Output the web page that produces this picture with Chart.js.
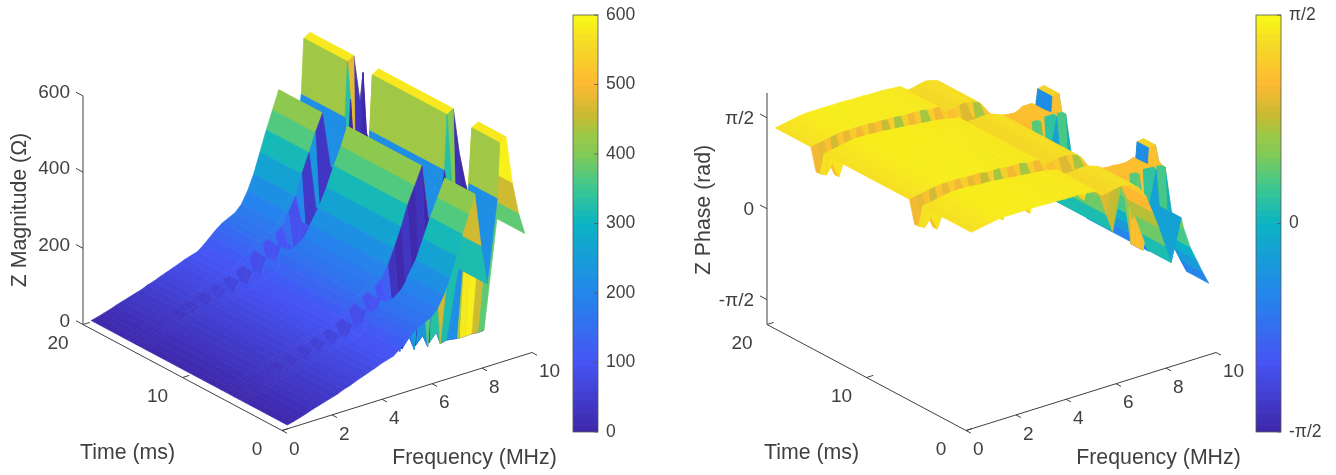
<!DOCTYPE html>
<html>
<head>
<meta charset="utf-8">
<script src="https://cdn.jsdelivr.net/npm/chart.js@4"></script>
<style>
html,body{margin:0;background:#fff;overflow:hidden}
canvas{position:absolute;top:0;filter:blur(0.45px)}
#magPlot{left:0}
#magBar{left:560px}
#phasePlot{left:684px}
#phaseBar{left:1243px}
</style>
</head>
<body>
<canvas id="magPlot" width="570" height="475"></canvas>
<canvas id="magBar" width="110" height="475"></canvas>
<canvas id="phasePlot" width="570" height="475"></canvas>
<canvas id="phaseBar" width="93" height="475"></canvas>
<script>
const HALF_PI = Math.PI / 2;

const freqs = [0.25,0.5,0.75,1,1.25,1.5,1.75,2,2.25,2.5,2.75,3,3.25,3.5,3.75,4,4.25,4.5,4.75,5,5.25,5.5,5.75,6,6.25,6.5,6.75,7,7.25,7.5,7.75,8,8.25,8.65,8.75,9,9.25,9.5,9.75];

// time of each grid row, per frequency column (the gaps between the lobes drift with frequency)
const tFront = [0.1,0.1,0.1,0.1,0.1,0.1,0.1,0.1,0.1,0.1,0.1,0.1,0.1,0.1,0.1,0.1,0.1,0.1,0.1,0.1,0.1,0.1,0.1,0.1,0.1,0.1,0.1,0.1,0.1,0.1,0.1,0.1,0.1,0.1,0.1,0.1,0.1,0.1,0.1];
const t1y = [4.4,4.4,4.4,4.4,4.4,4.4,4.4,4.4,4.3,4.2,4.2,4.1,4.1,4,3.9,3.9,3.8,3.7,3.7,3.6,3.5,3.4,3.3,3.2,3.1,3,2.9,2.8,2.7,2.6,2.5,2.4,2.4,2.3,2.3,2.3,2.3,2.3,2.3];
const t1z = [4.7,4.7,4.7,4.7,4.7,4.7,4.7,4.7,4.6,4.5,4.5,4.4,4.4,4.3,4.2,4.2,4.1,4,4,3.9,3.8,3.7,3.6,3.5,3.4,3.3,3.2,3.1,3,2.9,2.8,2.7,2.7,2.6,2.6,2.6,2.6,2.6,2.6];
const t1a = [5,5,5,5,5,5,5,5,4.9,4.8,4.8,4.7,4.7,4.6,4.5,4.5,4.4,4.3,4.3,4.2,4.1,4,3.9,3.8,3.7,3.6,3.5,3.4,3.3,3.2,3.1,3,3,2.9,2.9,2.9,2.9,2.9,2.9];
const t1b = [5.4,5.4,5.4,5.4,5.4,5.4,5.4,5.4,5.3,5.3,5.2,5.2,5.1,5.1,5,5,4.9,4.9,4.8,4.8,4.7,4.7,4.6,4.6,4.5,4.5,4.4,4.3,4.3,4.2,4.2,4.2,4.2,4.2,4.2,4.2,4.2,4.2,4.2];
const t1c = [5.8,5.8,5.8,5.8,5.8,5.8,5.8,5.8,5.7,5.7,5.6,5.6,5.5,5.5,5.5,5.4,5.4,5.3,5.3,5.2,5.2,5.1,5.1,5,5,4.9,4.9,4.8,4.8,4.7,4.7,4.6,4.6,4.9,4.9,4.9,4.9,4.9,4.9];
const t1d = [6.3,6.3,6.3,6.3,6.3,6.3,6.3,6.3,6.3,6.2,6.2,6.2,6.1,6.1,6.1,6,6,6,5.9,5.9,5.9,5.8,5.8,5.8,5.7,5.7,5.7,5.6,5.6,5.5,5.4,5.4,5.4,5.4,5.4,5.4,5.4,5.4,5.4];
const t1e = [6.7,6.7,6.7,6.7,6.7,6.7,6.7,6.7,6.7,6.6,6.6,6.6,6.5,6.5,6.5,6.4,6.4,6.4,6.3,6.3,6.3,6.2,6.2,6.2,6.1,6.1,6.1,6,6,5.9,6,6,6,6.1,6.1,6.1,6.1,6.1,6.1];
const t2y = [14.3,14.3,14.3,14.3,14.3,14.3,14.3,14.3,14.2,14.2,14.1,14,14,13.9,13.8,13.8,13.7,13.6,13.5,13.4,13.3,13.2,13.1,13,12.9,12.8,12.7,12.5,12.4,12.3,12.3,12.3,12.3,12.3,12.3,12.3,12.3,12.3,12.3];
const t2z = [14.6,14.6,14.6,14.6,14.6,14.6,14.6,14.6,14.5,14.5,14.4,14.3,14.3,14.2,14.1,14.1,14,13.9,13.8,13.7,13.6,13.5,13.4,13.3,13.2,13.1,13,12.8,12.7,12.6,12.6,12.6,12.6,12.6,12.6,12.6,12.6,12.6,12.6];
const t2a = [14.9,14.9,14.9,14.9,14.9,14.9,14.9,14.9,14.8,14.8,14.7,14.6,14.6,14.5,14.4,14.4,14.3,14.2,14.1,14,13.9,13.8,13.7,13.6,13.5,13.4,13.3,13.1,13,12.9,12.9,12.9,12.9,12.9,12.9,12.9,12.9,12.9,12.9];
const t2b = [15.3,15.3,15.3,15.3,15.3,15.3,15.3,15.3,15.2,15.2,15.2,15.1,15.1,15.1,15,15,15,14.9,14.9,14.8,14.8,14.7,14.6,14.5,14.4,14.3,14.2,14.1,14,13.9,13.9,13.9,13.9,13.9,13.9,13.9,13.9,13.9,13.9];
const t2c = [15.7,15.7,15.7,15.7,15.7,15.7,15.7,15.7,15.6,15.6,15.6,15.6,15.5,15.5,15.5,15.4,15.4,15.4,15.3,15.3,15.3,15.2,15.2,15.1,15.1,15,15,14.9,14.8,14.7,14.6,14.8,15.1,15.1,15.1,15.1,15.1,15.1,15.1];
const t2d = [16.2,16.2,16.2,16.2,16.2,16.2,16.2,16.2,16.2,16.2,16.1,16.1,16.1,16.1,16,16,16,16,15.9,15.9,15.9,15.8,15.8,15.8,15.7,15.7,15.6,15.6,15.5,15.5,15.4,15.4,15.4,15.4,15.4,15.4,15.4,15.4,15.4];
const t2e = [16.6,16.6,16.6,16.6,16.6,16.6,16.6,16.6,16.6,16.6,16.5,16.5,16.5,16.5,16.4,16.4,16.4,16.4,16.3,16.3,16.3,16.2,16.2,16.2,16.1,16.1,16,16,15.9,15.9,16,16,16,16.3,16.3,16.3,16.3,16.3,16.3];
const tBack = [19.8,19.8,19.8,19.8,19.8,19.8,19.8,19.8,19.8,19.8,19.8,19.8,19.8,19.8,19.8,19.8,19.8,19.8,19.8,19.8,19.8,19.8,19.8,19.8,19.8,19.8,19.8,19.8,19.8,19.8,19.8,19.8,19.8,19.8,19.8,19.8,19.8,19.8,19.8];
const rowTimes = [tFront,t1y,t1z,t1a,t1b,t1c,t1d,t1e,t2y,t2z,t2a,t2b,t2c,t2d,t2e,tBack];

// magnitude (ohm)
const magLobe = [8,12,17,22,28,33,38,43,48,55,60,67,73,79,85,92,97,102,115,130,145,157,165,173,190,220,260,312,365,412,460,320,215,430,575,585,460,375,316];
const magGap1b = [8,12,16,20,26,31,36,32,47,44,58,52,71,62,83,68,95,72,112,85,140,95,160,100,150,12,200,10,230,8,330,6,10,6,5,5,6,4,5];
const magGap1c = [8,12,16,20,26,31,36,32,47,44,58,52,71,62,83,68,95,72,112,85,140,95,160,100,120,30,8,35,8,30,6,30,6,330,400,20,4,15,3];
const magGap2b = [8,12,16,20,26,31,36,32,47,44,58,52,71,62,83,68,95,72,112,85,140,95,160,100,150,90,200,40,230,35,330,40,10,8,6,5,5,4,3];
const magGap2c = [8,12,16,20,26,31,36,32,47,44,58,52,71,62,83,68,95,72,112,85,140,95,160,100,150,90,200,40,230,35,330,40,200,330,480,30,540,12,12];

// phase (rad)
const phaseLobe = [1.38,1.4,1.42,1.44,1.46,1.47,1.47,1.47,1.47,1.47,1.47,1.47,1.46,1.46,1.46,1.45,1.45,1.45,1.44,1.43,1.42,1.32,1.33,1.36,1.38,1.36,1.32,1.22,1.05,0.75,0.45,0.1,-0.22,0.5,0.3,-0.05,-0.3,-0.55,-0.78];
const phaseAlt = [1.38,1.4,1.42,1.44,1.46,1.47,1.47,1.47,1.47,1.47,1.47,1.47,1.46,1.46,1.46,1.45,1.45,1.45,1.44,1.43,1.42,1.32,1.33,1.36,1.38,1.36,1.32,1.1,1.05,1.08,0.35,1.1,0.2,1.1,0.3,1.1,0.3,-0.2,-0.6];
const phaseHump = [1.38,1.4,1.42,1.44,1.46,1.47,1.47,1.47,1.47,1.47,1.47,1.47,1.46,1.46,1.46,1.45,1.45,1.45,1.44,1.43,1.42,1.32,1.33,1.36,1.38,1.36,1.32,1.12,1.1,1.1,1.1,1.1,1.12,1.12,1.12,1.1,0.3,-0.2,-0.6];
const phaseGap = [1,0.95,1.1,0.85,1.15,0.95,1.2,1,1.25,0.95,1.1,0.8,1.25,0.7,1.25,1,1.2,0.7,1.25,1,1.25,1.1,1.2,0.9,1.2,0.7,1.15,1.1,1.1,1.1,1.1,1.1,1.1,1.1,-0.45,1.28,1.3,0.2,-0.4];
const phaseCap = [1.38,1.4,1.42,1.44,1.46,1.47,1.47,1.47,1.47,1.47,1.47,1.47,1.46,1.46,1.46,1.45,1.45,1.45,1.44,1.43,1.42,1.32,1.33,1.36,1.38,1.36,1.32,1.1,1.05,1,0.9,0.8,0.7,0.6,-0.45,1.28,1.3,0.2,-0.4];

const timeTicks = [0,10,20];
const freqTicks = [0,2,4,6,8,10];
const magTicks = [0,200,400,600];
const phaseTicks = [-HALF_PI,0,HALF_PI];
const phaseTickLabels = ['-π/2','0','π/2'];
const magBarTicks = [0,100,200,300,400,500,600];

const parulaStops = [0,0.167,0.333,0.5,0.583,0.667,0.717,0.75,0.833,0.92,1];
const parula = [[62,38,168],[70,85,245],[35,135,235],[10,180,195],[60,200,145],[130,202,85],[160,200,70],[195,187,50],[253,185,50],[245,215,40],[249,251,21]];

const FONT_FAMILY = '"Liberation Sans", Arial, sans-serif';
const TEXT = '#404040';
const AXIS = '#404040';

function colorAt(v, min, max) {
  const p = Math.min(1, Math.max(0, (v - min) / (max - min)));
  let i = 0;
  while (i < parulaStops.length - 2 && p > parulaStops[i + 1]) i++;
  const k = (p - parulaStops[i]) / (parulaStops[i + 1] - parulaStops[i]);
  const c = parula[i].map((a, n) => Math.round(a + (parula[i + 1][n] - a) * k));
  return `rgb(${c[0]},${c[1]},${c[2]})`;
}

function makeSurface(id, rows, view) {
  const { zMin, zMax, cMin, cMax, zScale, zTicks, zLabels, zTitle, zLabelDy } = view;
  // orthographic view used by the reference axes
  const project = (f, t, z) => ({
    x: 282 + 25 * f - 9.95 * t,
    y: 430.5 - 7.8 * f - 5.3 * t - zScale * (z - zMin)
  });
  const datasets = [];
  // nearest cells come first because Chart.js paints dataset 0 last
  for (let j = 0; j < freqs.length - 1; j++) {
    for (let i = 0; i < rows.length - 1; i++) {
      const color = colorAt(rows[i][j], cMin, cMax);
      datasets.push({
        data: [
          project(freqs[j], rowTimes[i][j], rows[i][j]),
          project(freqs[j + 1], rowTimes[i][j + 1], rows[i][j + 1]),
          project(freqs[j + 1], rowTimes[i + 1][j + 1], rows[i + 1][j + 1]),
          project(freqs[j], rowTimes[i + 1][j], rows[i + 1][j]),
          project(freqs[j], rowTimes[i][j], rows[i][j])
        ],
        showLine: true, fill: 'shape', pointRadius: 0,
        backgroundColor: color, borderColor: color, borderWidth: 0.7
      });
    }
  }
  const axisLine = (a, b) => datasets.push({
    data: [project(a[0], a[1], a[2]), project(b[0], b[1], b[2])],
    showLine: true, pointRadius: 0, borderColor: AXIS, borderWidth: 1
  });
  axisLine([0, 0, zMin], [10, 0, zMin]);
  axisLine([0, 0, zMin], [0, 20, zMin]);
  axisLine([0, 20, zMin], [0, 20, zMax]);
  timeTicks.forEach(t => axisLine([0, t, zMin], [0.27, t, zMin]));
  freqTicks.forEach(f => axisLine([f, 0, zMin], [f, -0.5, zMin]));
  zTicks.forEach(z => axisLine([0, 20, z], [0, 20.7, z]));

  const labels = [];
  timeTicks.forEach(t => labels.push({ text: String(t), at: project(0, t, zMin), dx: -25, dy: 19.5, align: 'center' }));
  freqTicks.forEach(f => labels.push({ text: String(f), at: project(f, 0, zMin), dx: 7, dy: 19.5, align: 'left' }));
  zTicks.forEach((z, n) => labels.push({ text: zLabels[n], at: project(0, 20, z), dx: -13, dy: zLabelDy, align: 'right' }));

  const textPlugin = {
    id: 'axisText',
    afterDraw(chart) {
      const ctx = chart.ctx, sx = chart.scales.x, sy = chart.scales.y;
      ctx.save();
      ctx.font = '19px ' + FONT_FAMILY;
      ctx.fillStyle = TEXT;
      ctx.textBaseline = 'middle';
      labels.forEach(l => {
        ctx.textAlign = l.align;
        ctx.fillText(l.text, sx.getPixelForValue(l.at.x) + l.dx, sy.getPixelForValue(l.at.y) + l.dy);
      });
      ctx.font = '21.3px ' + FONT_FAMILY;
      ctx.textAlign = 'center';
      ctx.fillText('Time (ms)', 127.5, 453);
      ctx.fillText('Frequency (MHz)', 474.5, 458);
      ctx.translate(20, 210);
      ctx.rotate(-HALF_PI);
      ctx.fillText(zTitle, 0, 0);
      ctx.restore();
    }
  };

  const canvas = document.getElementById(id);
  return new Chart(canvas, {
    type: 'scatter',
    data: { datasets },
    plugins: [textPlugin],
    options: {
      responsive: false,
      animation: false,
      events: [],
      plugins: { legend: { display: false }, tooltip: { enabled: false } },
      scales: {
        x: { display: false, min: 0, max: canvas.width },
        y: { display: false, min: 0, max: canvas.height, reverse: true }
      }
    }
  });
}

function makeColorbar(id, min, max, ticks, labels) {
  const levels = [];
  for (let i = 0; i < 64; i++) levels.push(i);
  const frame = {
    id: 'barFrame',
    afterDraw(chart) {
      const ctx = chart.ctx, a = chart.chartArea, y = chart.scales.y;
      ctx.save();
      ctx.strokeStyle = '#555';
      ctx.lineWidth = 0.8;
      ctx.strokeRect(a.left, a.top, a.right - a.left, a.bottom - a.top);
      ticks.forEach(v => {
        const p = y.getPixelForValue(v - min);
        ctx.beginPath();
        ctx.moveTo(a.right - 4, p);
        ctx.lineTo(a.right, p);
        ctx.stroke();
      });
      ctx.restore();
    }
  };
  return new Chart(document.getElementById(id), {
    type: 'bar',
    data: {
      labels: [''],
      datasets: levels.map(l => ({
        data: [(max - min) / levels.length],
        backgroundColor: colorAt(min + (l + 0.5) * (max - min) / levels.length, min, max),
        barPercentage: 1,
        categoryPercentage: 1
      }))
    },
    plugins: [frame],
    options: {
      responsive: false,
      animation: false,
      events: [],
      layout: { padding: { left: 13, top: 15, bottom: 43, right: 0 } },
      plugins: { legend: { display: false }, tooltip: { enabled: false } },
      scales: {
        x: { display: false, stacked: true },
        y: {
          position: 'right',
          stacked: true,
          min: 0,
          max: max - min,
          afterFit(s) { s.width = s.chart.width - 38; },
          afterBuildTicks(s) { s.ticks = ticks.map(v => ({ value: v - min, label: '' })); },
          border: { display: false },
          grid: { display: false },
          ticks: {
            padding: 0,
            color: TEXT,
            font: { family: FONT_FAMILY, size: 17.5 },
            callback(value) { return labels[ticks.findIndex(v => Math.abs(v - min - value) < 1e-6)]; }
          }
        }
      }
    }
  });
}

const magRows = [magLobe, magLobe, magLobe, magLobe, magGap1b, magGap1c, magLobe, magLobe, magLobe, magLobe, magLobe, magGap2b, magGap2c, magLobe, magLobe, magLobe];
const phaseRows = [phaseLobe, phaseLobe, phaseAlt, phaseHump, phaseGap, phaseGap, phaseCap, phaseLobe, phaseLobe, phaseAlt, phaseHump, phaseGap, phaseGap, phaseCap, phaseLobe, phaseLobe];

makeSurface('magPlot', magRows, { zMin: 0, zMax: 600, cMin: 0, cMax: 600, zScale: 0.381, zTicks: magTicks, zLabels: magTicks.map(String), zTitle: 'Z Magnitude (Ω)', zLabelDy: -3 });
makeSurface('phasePlot', phaseRows, { zMin: -2, zMax: 2, cMin: -HALF_PI, cMax: HALF_PI, zScale: 57.9, zTicks: phaseTicks, zLabels: phaseTickLabels, zTitle: 'Z Phase (rad)', zLabelDy: 1.5 });
makeColorbar('magBar', 0, 600, magBarTicks, magBarTicks.map(String));
makeColorbar('phaseBar', -HALF_PI, HALF_PI, phaseTicks, phaseTickLabels);
</script>
</body>
</html>
